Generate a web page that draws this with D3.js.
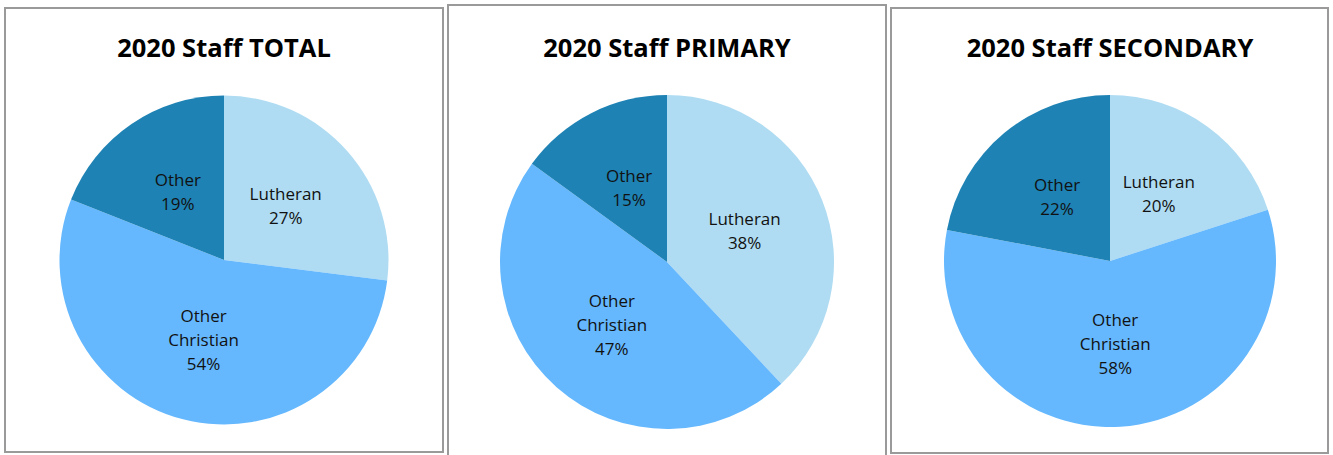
<!DOCTYPE html>
<html>
<head>
<meta charset="utf-8">
<script src="https://cdn.jsdelivr.net/npm/d3@7"></script>
<style>
  body { margin: 0; background: #fff; }
  svg { display: block; }
</style>
</head>
<body>
<div id="canvas"></div>
<script>
const w = 1333;
const h = 455;

// chart data
const titles = ["2020 Staff TOTAL", "2020 Staff PRIMARY", "2020 Staff SECONDARY"];
const categories = ["Lutheran", "Other Christian", "Other"];
const labelLines = [["Lutheran"], ["Other", "Christian"], ["Other"]];
const totalValues = [27, 54, 19];
const primaryValues = [38, 47, 15];
const secondaryValues = [20, 58, 22];
const seriesValues = [totalValues, primaryValues, secondaryValues];

const colors = ["#afdcf2", "#65b8fe", "#1e82b4"];

// panel boxes, layout only
const panels = [
  {x: 5, y: 8, w: 438, h: 444, cx: 224, cy: 260, r: 164.5},
  {x: 448, y: 5, w: 438, h: 460, cx: 667, cy: 262, r: 167},
  {x: 891, y: 8, w: 437, h: 445, cx: 1110, cy: 261, r: 166}
];

const svg = d3.select("#canvas")
  .append("svg")
  .attr("width", w)
  .attr("height", h);

const color = d3.scaleOrdinal().domain(categories).range(colors);

const pie = d3.pie()
  .sort(null)
  .value(d => d.value);

panels.forEach(function(p, i){
  svg.append("rect")
    .attr("x", p.x)
    .attr("y", p.y)
    .attr("width", p.w)
    .attr("height", p.h)
    .attr("fill", "#fff")
    .attr("stroke", "#9a9a9a")
    .attr("stroke-width", 2);

  svg.append("text")
    .attr("x", p.cx)
    .attr("y", 57)
    .attr("text-anchor", "middle")
    .style("font-family", "'Open Sans', sans-serif")
    .style("font-weight", "bold")
    .style("font-size", "25.5px")
    .attr("fill", "#000")
    .text(titles[i]);

  const data = categories.map((c, k) => ({cat: c, value: seriesValues[i][k], lines: labelLines[k]}));
  const arcs = pie(data);

  const arc = d3.arc().innerRadius(0).outerRadius(p.r);
  const labelArc = d3.arc().innerRadius(p.r * 0.5).outerRadius(p.r * 0.5);

  const g = svg.append("g")
    .attr("transform", "translate(" + p.cx + "," + p.cy + ")");

  g.selectAll("path")
    .data(arcs)
    .enter()
      .append("path")
      .attr("d", arc)
      .attr("fill", d => color(d.data.cat));

  const lineH = 24;
  const labels = g.selectAll("text.lbl")
    .data(arcs)
    .enter()
      .append("text")
      .classed("lbl", true)
      .attr("transform", d => "translate(" + labelArc.centroid(d) + ")")
      .attr("text-anchor", "middle")
      .style("font-family", "'Open Sans', sans-serif")
      .style("font-size", "17px")
      .attr("fill", "#111");

  labels.each(function(d){
    const lines = d.data.lines.concat([d.data.value + "%"]);
    const start = -(lines.length - 1) * lineH / 2;
    d3.select(this).selectAll("tspan")
      .data(lines)
      .enter()
        .append("tspan")
        .attr("x", 0)
        .attr("y", (t, k) => start + k * lineH)
        .attr("dy", "0.35em")
        .text(t => t);
  });
});
</script>
</body>
</html>
